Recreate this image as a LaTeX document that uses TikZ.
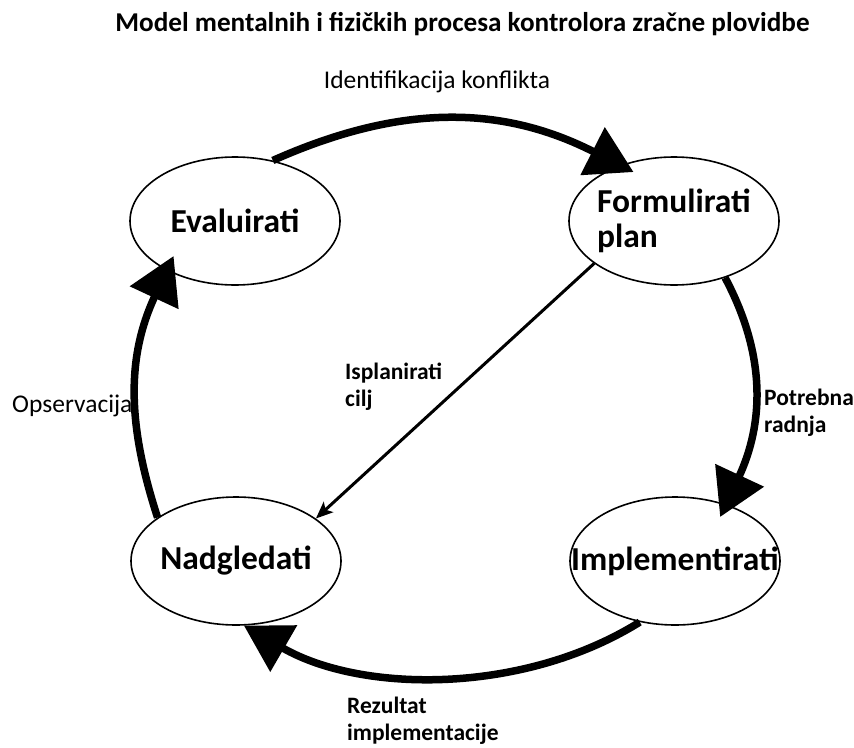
\documentclass[tikz,border=0pt]{standalone}
\usepackage{fontspec}
\setmainfont{Carlito}
\usetikzlibrary{arrows.meta,shapes.geometric}
\begin{document}
\begin{tikzpicture}[x=1pt,y=1pt,
  oval/.style={draw=black,line width=1.6pt,ellipse,minimum width=210pt,minimum height=128pt,inner sep=0pt},
  ovaltext/.style={font=\bfseries\fontsize{33.5}{35}\selectfont,inner sep=0pt,align=left},
  cycle/.style={line width=7.5pt,-{Triangle[length=46pt,width=52pt]}},
  boldlabel/.style={font=\bfseries\fontsize{23.5}{27}\selectfont,inner sep=0pt,align=left,anchor=base west},
  plainlabel/.style={font=\fontsize{25.5}{28}\selectfont,inner sep=0pt}
]
\useasboundingbox[fill=white] (0,0) rectangle (854,-747);

\node[font=\bfseries\fontsize{27.2}{30}\selectfont,inner sep=0pt,anchor=base] (title) at (462.5,-31) {Model mentalnih i fizičkih procesa kontrolora zračne plovidbe};

\node[oval] (ev) at (235,-221) {};
\node[oval] (fo) at (674,-221) {};
\node[oval] (na) at (236,-561) {};
\node[oval] (im) at (675,-561) {};

\node[ovaltext] (evt) at (ev.center) {Evaluirati};
\node[ovaltext] (fot) at (fo.center) {Formulirati\\plan};
\node[ovaltext] (nat) at (na.center) {Nadgledati};
\node[ovaltext] (imt) at (im.center) {Implementirati};

\draw[cycle,shorten >=-15pt] (ev.58) to[out=24,in=153] (fo.134);
\draw[cycle,shorten >=-14pt] (fo.-48) to[out=-62,in=65] (im.48);
\draw[cycle] (im.-120) to[out=-148,in=-30,looseness=0.88] (na.-83);
\draw[cycle,shorten >=-16pt] (na.151) to[out=108,in=-115] (ev.216);

\draw[line width=3pt,-{Stealth[length=17pt,width=14pt,inset=4pt]}] (fo.208) -- (na.28);

\node[plainlabel,anchor=base] (l1) at (437,-88) {Identifikacija konflikta};
\node[plainlabel,anchor=base west] (l2) at (12,-412) {Opservacija};
\node[boldlabel] (l3) at (345,-406) {Isplanirati\\cilj};
\node[boldlabel] (l4) at (764,-432) {Potrebna\\radnja};
\node[boldlabel] (l5) at (347,-740) {Rezultat\\implementacije};
\end{tikzpicture}
\end{document}
